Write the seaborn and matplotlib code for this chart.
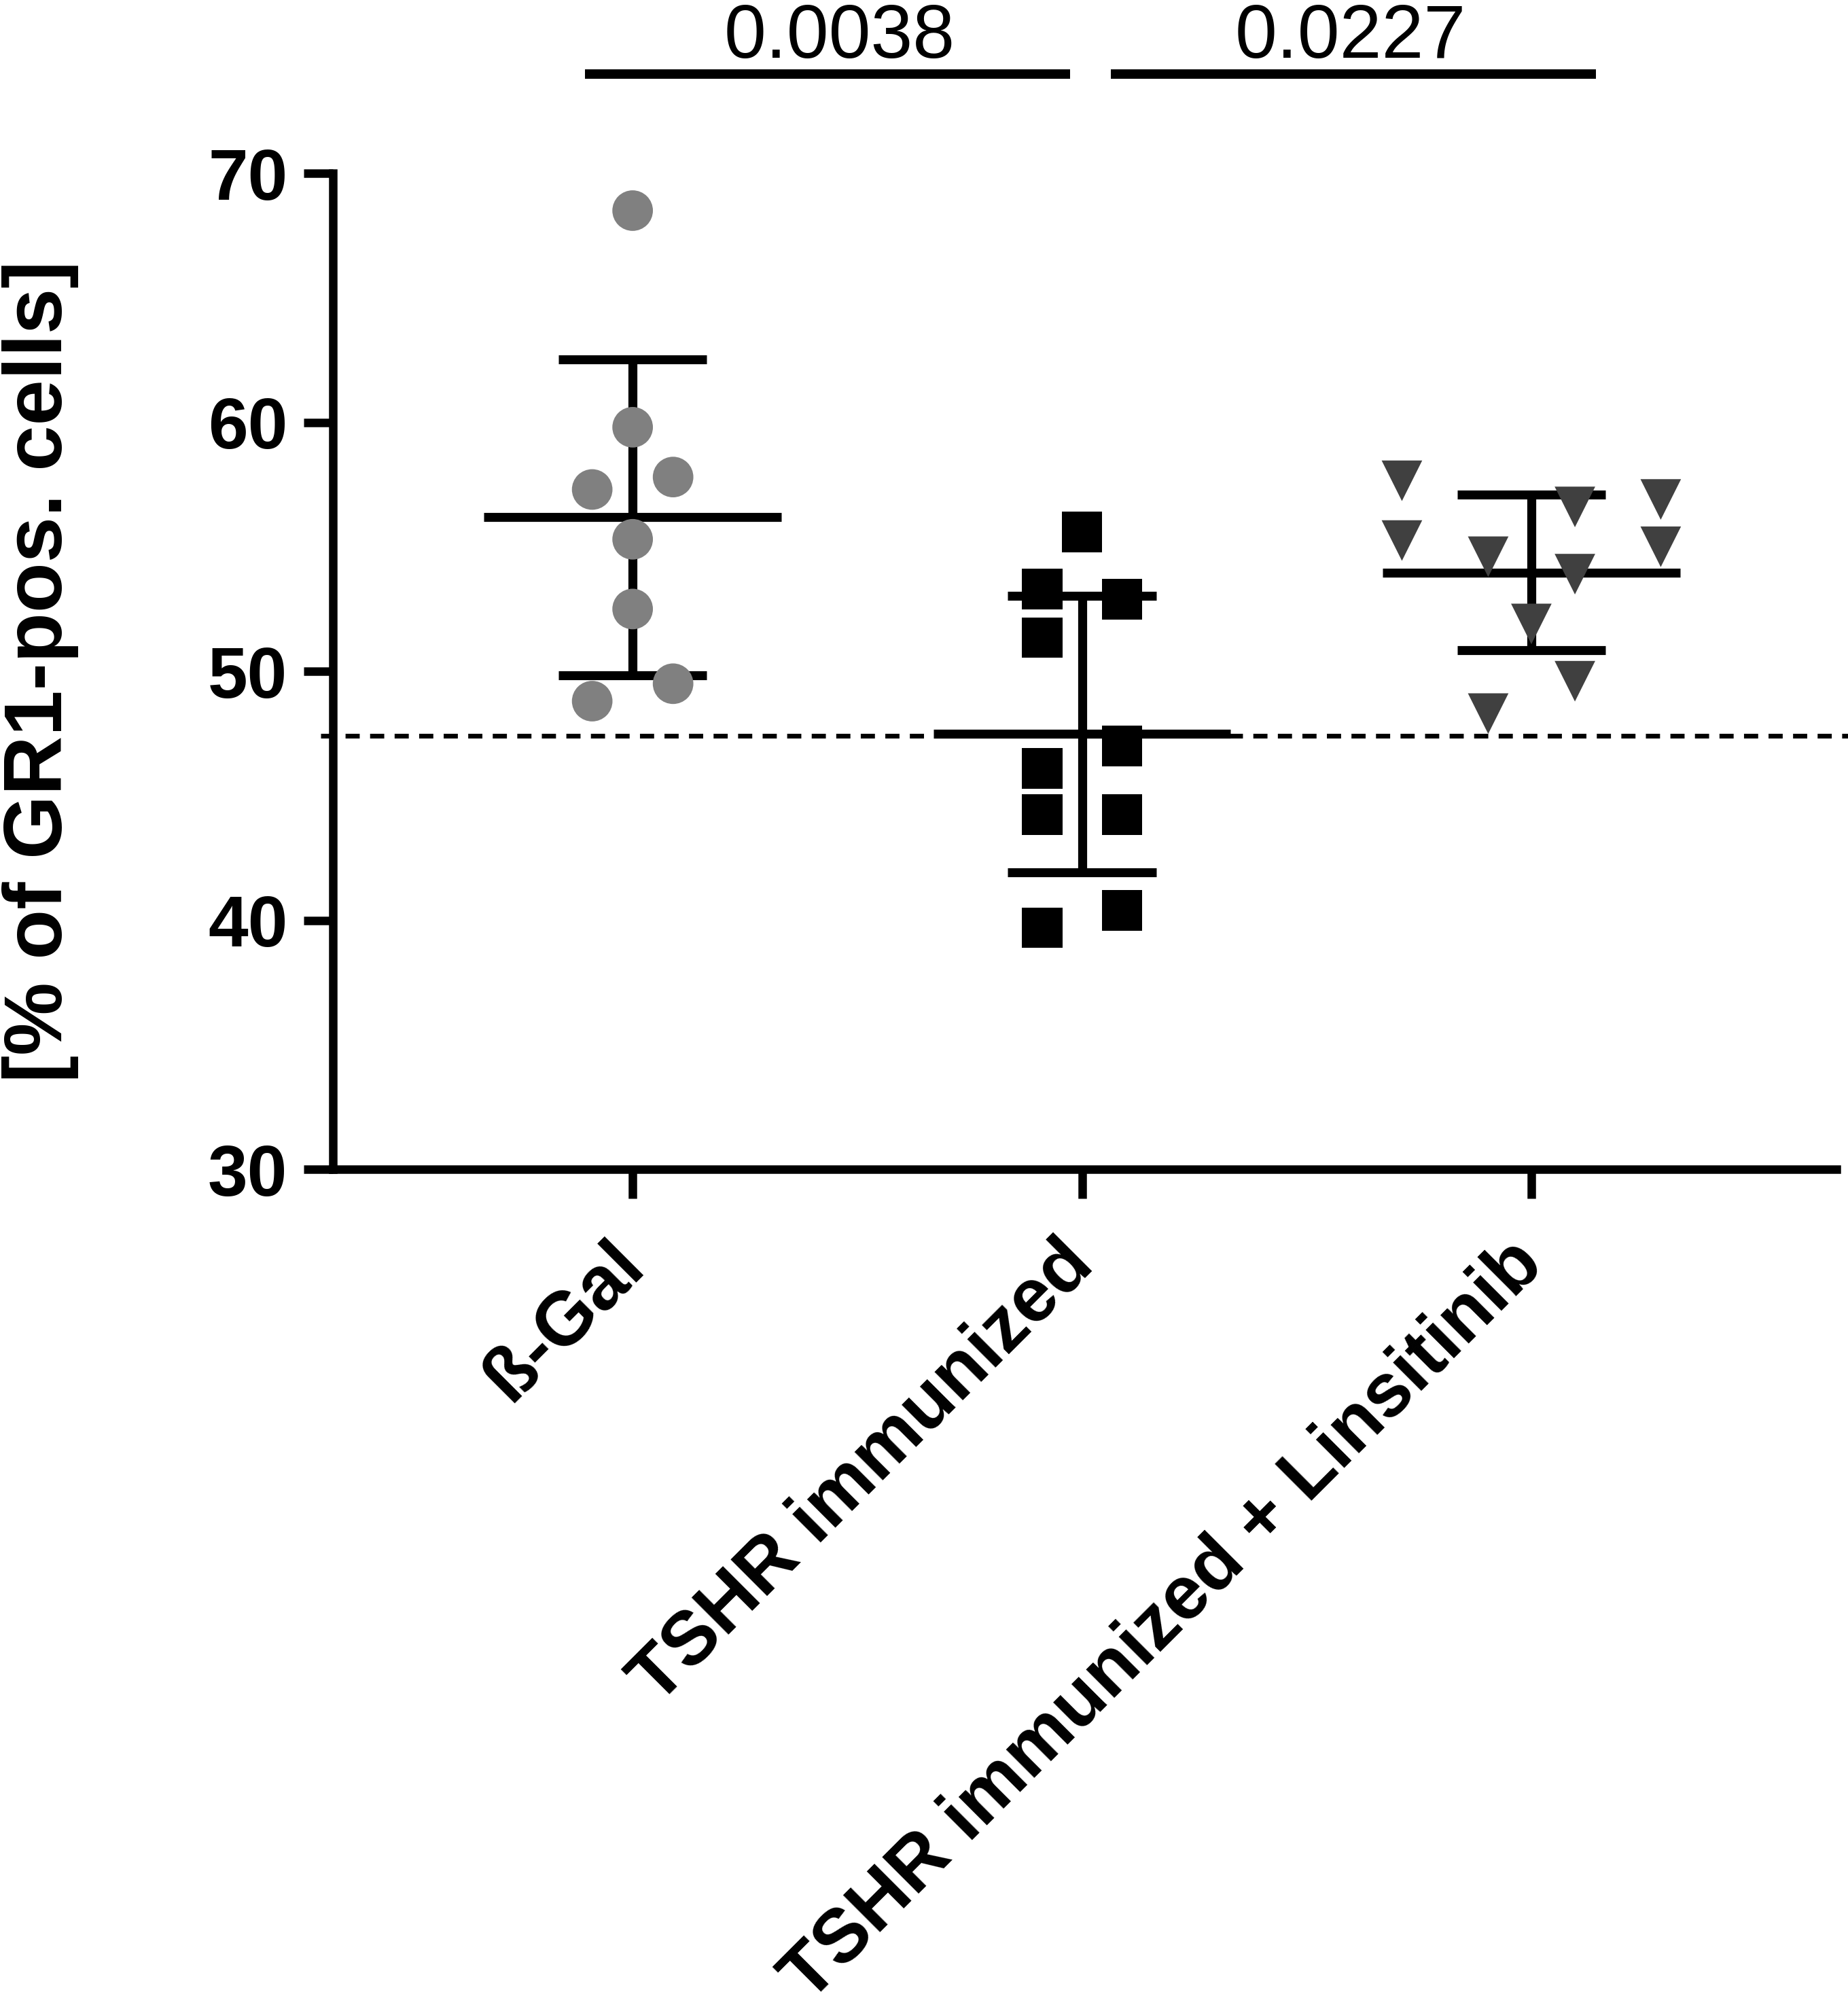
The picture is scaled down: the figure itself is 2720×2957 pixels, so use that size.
import numpy as np
import pandas as pd
import matplotlib
matplotlib.use("Agg")
import matplotlib.pyplot as plt
import seaborn as sns

# groups and measured values (% of GR1-pos. cells)
groups = ["ß-Gal", "TSHR immunized", "TSHR immunized + Linsitinib"]
bgal_values = [68.5, 59.8, 57.3, 57.8, 55.3, 52.5, 48.8, 49.5]
tshr_values = [55.6, 53.3, 52.9, 51.35, 47.0, 46.1, 44.25, 44.25, 39.7, 40.4]
linsitinib_values = [57.65, 55.25, 54.6, 48.3, 51.9, 56.6, 53.9, 49.6, 56.9, 55.0]
baseline = 47.4

# p values between neighbouring groups
p_values = ["0.0038", "0.0227"]

# layout only: horizontal spread of the points inside each column
bgal_offsets = [0, 0, -0.09, 0.09, 0, 0, -0.09, 0.09]
tshr_offsets = [0, -0.089, 0.089, -0.089, 0.089, -0.089, -0.089, 0.089, -0.089, 0.089]
lins_offsets = [-0.288, -0.288, -0.096, -0.096, 0, 0.097, 0.097, 0.097, 0.288, 0.288]
bracket_spans = [(-0.106, 0.974), (1.064, 2.144)]
bracket_text_x = [0.46, 1.598]

colors = {groups[0]: "#808080", groups[1]: "#000000", groups[2]: "#404040"}
markers = {groups[0]: "o", groups[1]: "s", groups[2]: "v"}

all_values = [bgal_values, tshr_values, linsitinib_values]
all_offsets = [bgal_offsets, tshr_offsets, lins_offsets]

frames = []
for i, (name, vals, offs) in enumerate(zip(groups, all_values, all_offsets)):
    frames.append(pd.DataFrame({
        "group": name,
        "value": vals,
        "xpos": [i + o for o in offs],
    }))
df = pd.concat(frames, ignore_index=True)

sns.set_theme(style="ticks")
plt.rcParams["font.family"] = ["Liberation Sans", "DejaVu Sans"]
plt.rcParams["font.weight"] = "bold"
for key in ["text.color", "axes.labelcolor", "xtick.color", "ytick.color",
            "axes.edgecolor"]:
    plt.rcParams[key] = "black"

fig = plt.figure(figsize=(27.2, 29.57), dpi=100)
ax = fig.add_axes([0.18015, 0.41799, 0.8136, 0.49577])

sns.scatterplot(data=df, x="xpos", y="value", hue="group", style="group",
                palette=colors, markers=markers, s=43 ** 2, linewidth=0,
                edgecolor="none", legend=False, zorder=3, ax=ax)

# mean +/- SD
lw = 9.5
for i, vals in enumerate(all_values):
    m = np.mean(vals)
    sd = np.std(vals, ddof=1)
    ax.hlines(m, i - 0.331, i + 0.331, color="black", lw=lw, zorder=2)
    ax.hlines([m - sd, m + sd], i - 0.165, i + 0.165, color="black", lw=lw, zorder=2)
    ax.vlines(i, m - sd, m + sd, color="black", lw=lw, zorder=2)

ax.axhline(baseline, xmin=-0.008, xmax=1.01, color="black", lw=5,
           dashes=(3.0, 2.2), clip_on=False, zorder=1)

# significance bars
for (x0, x1), tx, p in zip(bracket_spans, bracket_text_x, p_values):
    ax.plot([x0, x1], [73.98, 73.98], color="black", lw=10,
            solid_capstyle="butt", clip_on=False)
    ax.text(tx, 74.64, p, ha="center", va="baseline", fontsize=80,
            fontweight="normal", color="black", clip_on=False)

ax.set_xlim(-0.667, 2.679)
ax.set_ylim(30, 70)
ax.set_yticks([30, 40, 50, 60, 70])
ax.set_xticks([0, 1, 2])
ax.set_xticklabels(groups, rotation=45, ha="right", va="center",
                   rotation_mode="anchor", fontsize=80, fontweight="bold")
for lbl in ax.get_yticklabels():
    lbl.set_fontsize(76)
    lbl.set_fontweight("bold")

ax.tick_params(axis="both", length=31, width=9, colors="black", direction="out")
ax.tick_params(axis="y", pad=17)
ax.tick_params(axis="x", pad=58)
ax.set_xlabel("")
ax.set_ylabel("[% of GR1-pos. cells]", fontsize=87, fontweight="bold", color="black")
ax.yaxis.set_label_coords(-0.169, 0.5)

sns.despine(ax=ax)
for side in ["left", "bottom"]:
    ax.spines[side].set_linewidth(9)
    ax.spines[side].set_color("black")

fig.savefig("out.png", dpi=100, facecolor="white")
